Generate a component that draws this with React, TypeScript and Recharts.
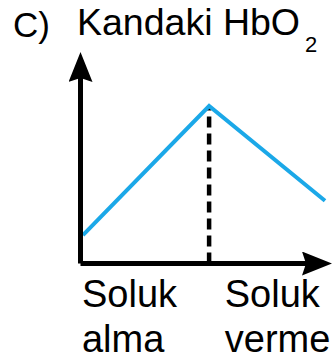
import React from 'react';
import { LineChart, Line, XAxis, YAxis, ReferenceLine } from 'recharts';

// breathing cycle position (0-100) and blood HbO2 level
const cyclePos = [1, 52.6, 100];
const hbo2Level = [13.9, 77, 30.7];

const phaseTicks = [0.6, 59];
const phaseLabels = [
    ['Soluk', 'alma'],
    ['Soluk', 'verme'],
];

const data = cyclePos.map((x, i) => ({ x, hbo2: hbo2Level[i] }));
const peak = data[1];

const FONT = '"Liberation Sans", Arial, sans-serif';

const PhaseTick = (props: any) => {
    const { x, y, index } = props;
    const lines = phaseLabels[index] || [];
    return (
        <text x={x} y={y} textAnchor="start" fontSize={38} fontFamily={FONT} fill="#000">
            <tspan x={x} y={y + 43}>{lines[0]}</tspan>
            <tspan x={x} dy={45}>{lines[1]}</tspan>
        </text>
    );
};

export default function App() {
    return (
        <div style={{ position: 'absolute', left: 0, top: 0, width: 332, height: 361, background: '#fff' }}>
            <LineChart
                width={332}
                height={361}
                data={data}
                margin={{ top: 59, right: 7, left: 20.5, bottom: 67.5 }}
            >
                <defs>
                    <marker id="arrow" markerUnits="userSpaceOnUse" markerWidth={32} markerHeight={26}
                        refX={23} refY={12} orient="auto-start-reverse" viewBox="0 0 32 26">
                        <path d="M0,0 L30,12 L0,24 L4,12 Z" fill="#000" />
                    </marker>
                </defs>
                <text x={13} y={37} fontSize={35} fontFamily={FONT} fill="#000">C)</text>
                <text x={77} y={35} fontSize={37.5} fontFamily={FONT} fill="#000">Kandaki HbO</text>
                <text x={305} y={52} fontSize={22} fontFamily={FONT} fill="#000">2</text>
                <XAxis
                    dataKey="x"
                    type="number"
                    domain={[0, 100]}
                    ticks={phaseTicks}
                    interval={0}
                    tickLine={false}
                    tickSize={0}
                    tickMargin={0}
                    tick={<PhaseTick />}
                    axisLine={{ stroke: '#000', strokeWidth: 5, markerEnd: 'url(#arrow)' }}
                />
                <YAxis
                    type="number"
                    domain={[0, 100]}
                    tick={false}
                    tickLine={false}
                    axisLine={{ stroke: '#000', strokeWidth: 5, markerStart: 'url(#arrow)' }}
                />
                <ReferenceLine
                    segment={[{ x: peak.x, y: 0 }, { x: peak.x, y: peak.hbo2 }]}
                    stroke="#000"
                    strokeWidth={4.5}
                    strokeDasharray="11 6"
                />
                <Line
                    dataKey="hbo2"
                    type="linear"
                    stroke="#1ba8e8"
                    strokeWidth={4}
                    dot={false}
                    isAnimationActive={false}
                />
            </LineChart>
        </div>
    );
}
